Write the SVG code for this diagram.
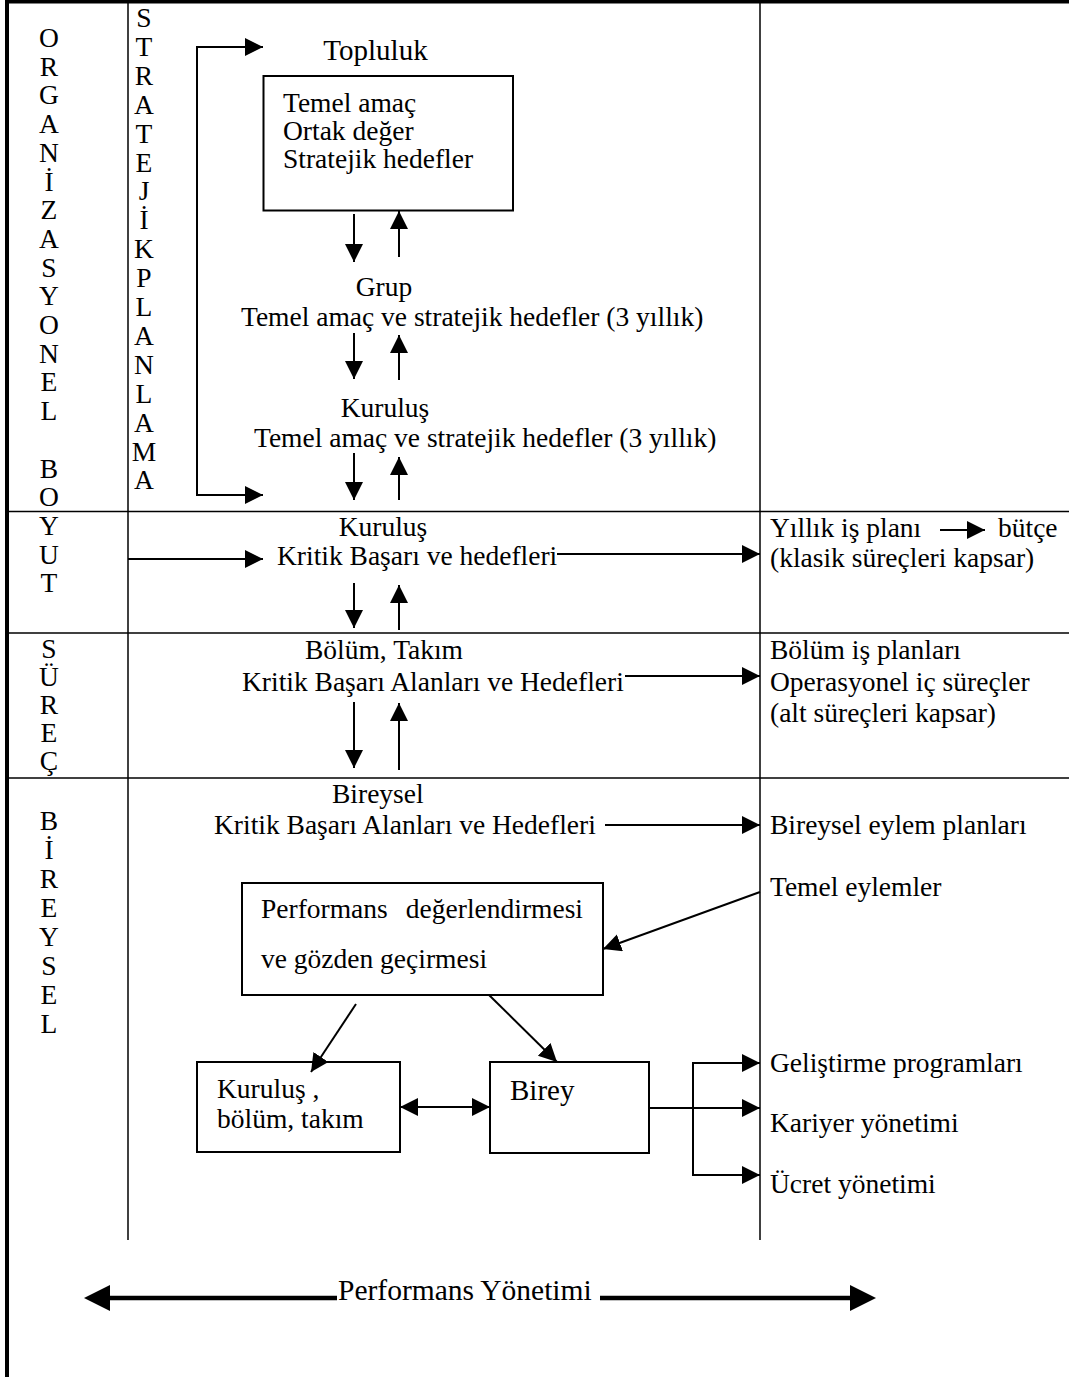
<svg xmlns="http://www.w3.org/2000/svg" width="1069" height="1377" viewBox="0 0 1069 1377">
<style>
text{font-family:"Liberation Serif","Times New Roman",serif;font-size:27.5px;fill:#000}
.col{text-anchor:middle}
.mid{text-anchor:middle}
.rule{stroke:#000;stroke-width:1.5;fill:none}
.box{stroke:#000;stroke-width:2;fill:#fff}
.con{stroke:#000;stroke-width:2;fill:none}
.thick{stroke:#000;stroke-width:4.5;fill:none}
</style>
<defs>
<marker id="ah" markerUnits="userSpaceOnUse" markerWidth="20" markerHeight="20" refX="18" refY="9" orient="auto-start-reverse" viewBox="0 0 20 20">
<path d="M0,0 L18,9 L0,18 z" fill="#000"/>
</marker>
</defs>
<rect width="1069" height="1377" fill="#fff"/>
<g id="frame">
<rect x="5" y="0" width="1064" height="3.5" fill="#000"/>
<rect x="5" y="0" width="4" height="1377" fill="#000"/>
<line class="rule" x1="128" y1="0" x2="128" y2="1240"/>
<line class="rule" x1="760" y1="0" x2="760" y2="1240"/>
<line class="rule" x1="7" y1="511.5" x2="1069" y2="511.5"/>
<line class="rule" x1="7" y1="633" x2="1069" y2="633"/>
<line class="rule" x1="7" y1="778" x2="1069" y2="778"/>
</g>
<g id="label-organizasyonel-boyut">
<text class="col"><tspan x="49" y="47">O</tspan><tspan x="49" y="75.7">R</tspan><tspan x="49" y="104.4">G</tspan><tspan x="49" y="133.1">A</tspan><tspan x="49" y="161.8">N</tspan><tspan x="49" y="190.5">İ</tspan><tspan x="49" y="219.2">Z</tspan><tspan x="49" y="247.9">A</tspan><tspan x="49" y="276.6">S</tspan><tspan x="49" y="305.3">Y</tspan><tspan x="49" y="334">O</tspan><tspan x="49" y="362.7">N</tspan><tspan x="49" y="391.4">E</tspan><tspan x="49" y="420.1">L</tspan><tspan x="49" y="477.5">B</tspan><tspan x="49" y="506.2">O</tspan><tspan x="49" y="534.9">Y</tspan><tspan x="49" y="563.6">U</tspan><tspan x="49" y="592.3">T</tspan></text>
</g>
<g id="label-surec">
<text class="col"><tspan x="49" y="658">S</tspan><tspan x="49" y="686">Ü</tspan><tspan x="49" y="714">R</tspan><tspan x="49" y="742">E</tspan><tspan x="49" y="770">Ç</tspan></text>
</g>
<g id="label-bireysel">
<text class="col"><tspan x="49" y="830">B</tspan><tspan x="49" y="859">İ</tspan><tspan x="49" y="888">R</tspan><tspan x="49" y="917">E</tspan><tspan x="49" y="946">Y</tspan><tspan x="49" y="975">S</tspan><tspan x="49" y="1004">E</tspan><tspan x="49" y="1033">L</tspan></text>
</g>
<g id="label-stratejik-planlama">
<text class="col"><tspan x="144" y="27">S</tspan><tspan x="144" y="55.9">T</tspan><tspan x="144" y="84.8">R</tspan><tspan x="144" y="113.7">A</tspan><tspan x="144" y="142.6">T</tspan><tspan x="144" y="171.5">E</tspan><tspan x="144" y="200.4">J</tspan><tspan x="144" y="229.3">İ</tspan><tspan x="144" y="258.2">K</tspan><tspan x="144" y="287.1">P</tspan><tspan x="144" y="316">L</tspan><tspan x="144" y="344.9">A</tspan><tspan x="144" y="373.8">N</tspan><tspan x="144" y="402.7">L</tspan><tspan x="144" y="431.6">A</tspan><tspan x="144" y="460.5">M</tspan><tspan x="144" y="489.4">A</tspan></text>
</g>
<g id="node-topluluk">
<text class="mid" x="375.5" y="60" style="font-size:29px">Topluluk</text>
<rect class="box" x="263.5" y="76" width="249.5" height="134.5"/>
<text x="283" y="112">Temel amaç</text>
<text x="283" y="140">Ortak değer</text>
<text x="283" y="168">Stratejik hedefler</text>
</g>
<g id="node-grup">
<text class="mid" x="384" y="296">Grup</text>
<text x="241" y="326">Temel amaç ve stratejik hedefler (3 yıllık)</text>
</g>
<g id="node-kurulus-strateji">
<text class="mid" x="385" y="417">Kuruluş</text>
<text x="254" y="447">Temel amaç ve stratejik hedefler (3 yıllık)</text>
</g>
<g id="node-kurulus-kritik">
<text class="mid" x="383" y="536">Kuruluş</text>
<text x="277" y="565">Kritik Başarı ve hedefleri</text>
</g>
<g id="node-bolum-takim">
<text x="305" y="659">Bölüm, Takım</text>
<text x="242" y="691">Kritik Başarı Alanları ve Hedefleri</text>
</g>
<g id="node-bireysel">
<text x="332" y="803">Bireysel</text>
<text x="214" y="834">Kritik Başarı Alanları ve Hedefleri</text>
</g>
<g id="node-yillik">
<text x="770" y="537">Yıllık iş planı</text>
<text x="998" y="537">bütçe</text>
<text x="770" y="567">(klasik süreçleri kapsar)</text>
</g>
<g id="node-bolum-planlari">
<text x="770" y="659">Bölüm iş planları</text>
<text x="770" y="691">Operasyonel iç süreçler</text>
<text x="770" y="722">(alt süreçleri kapsar)</text>
</g>
<g id="node-bireysel-eylem">
<text x="770" y="834">Bireysel eylem planları</text>
</g>
<g id="node-temel-eylemler">
<text x="770" y="896">Temel eylemler</text>
</g>
<g id="node-performans">
<rect class="box" x="242" y="883" width="361" height="112"/>
<text x="261" y="918">Performans</text>
<text x="583" y="918" style="text-anchor:end">değerlendirmesi</text>
<text x="261" y="968">ve gözden geçirmesi</text>
</g>
<g id="node-kurulus-bolum">
<rect class="box" x="197" y="1062" width="203" height="90"/>
<text x="217" y="1098">Kuruluş ,</text>
<text x="217" y="1128">bölüm, takım</text>
</g>
<g id="node-birey">
<rect class="box" x="490" y="1062" width="159" height="91"/>
<text x="510" y="1100" style="font-size:29px">Birey</text>
</g>
<g id="node-gelistirme"><text x="770" y="1072">Geliştirme programları</text></g>
<g id="node-kariyer"><text x="770" y="1132">Kariyer yönetimi</text></g>
<g id="node-ucret"><text x="770" y="1193">Ücret yönetimi</text></g>
<g id="node-performans-yonetimi">
<text x="338" y="1300" style="font-size:29.5px">Performans Yönetimi</text>
</g>
<g id="connectors">
<path class="con" d="M263,47 H197 V495 H263" marker-start="url(#ah)" marker-end="url(#ah)"/>
<line class="con" x1="354" y1="214" x2="354" y2="262" marker-end="url(#ah)"/>
<line class="con" x1="399" y1="257" x2="399" y2="211" marker-end="url(#ah)"/>
<line class="con" x1="354" y1="333" x2="354" y2="379" marker-end="url(#ah)"/>
<line class="con" x1="399" y1="380" x2="399" y2="335" marker-end="url(#ah)"/>
<line class="con" x1="354" y1="453" x2="354" y2="500" marker-end="url(#ah)"/>
<line class="con" x1="399" y1="500" x2="399" y2="457" marker-end="url(#ah)"/>
<line class="con" x1="128" y1="559" x2="263" y2="559" marker-end="url(#ah)"/>
<line class="con" x1="557" y1="554" x2="760" y2="554" marker-end="url(#ah)"/>
<line class="con" x1="354" y1="583" x2="354" y2="628" marker-end="url(#ah)"/>
<line class="con" x1="399" y1="630" x2="399" y2="585" marker-end="url(#ah)"/>
<line class="con" x1="940" y1="530" x2="985" y2="530" marker-end="url(#ah)"/>
<line class="con" x1="625" y1="676" x2="760" y2="676" marker-end="url(#ah)"/>
<line class="con" x1="354" y1="702" x2="354" y2="768" marker-end="url(#ah)"/>
<line class="con" x1="399" y1="770" x2="399" y2="703" marker-end="url(#ah)"/>
<line class="con" x1="605" y1="825" x2="760" y2="825" marker-end="url(#ah)"/>
<line class="con" x1="760" y1="892" x2="603" y2="949" marker-end="url(#ah)"/>
<line class="con" x1="356" y1="1004" x2="311" y2="1072" marker-end="url(#ah)"/>
<line class="con" x1="489" y1="995" x2="557" y2="1062" marker-end="url(#ah)"/>
<line class="con" x1="400" y1="1107" x2="490" y2="1107" marker-start="url(#ah)" marker-end="url(#ah)"/>
<line class="con" x1="649" y1="1108" x2="760" y2="1108" marker-end="url(#ah)"/>
<path class="con" d="M760,1063 H693 V1175 H760" marker-start="url(#ah)" marker-end="url(#ah)"/>
<line class="thick" x1="106" y1="1298" x2="337" y2="1298"/>
<line class="thick" x1="600" y1="1298" x2="854" y2="1298"/>
<polygon points="84,1298 110,1285 110,1311" fill="#000"/>
<polygon points="876,1298 850,1285 850,1311" fill="#000"/>
</g>
</svg>
